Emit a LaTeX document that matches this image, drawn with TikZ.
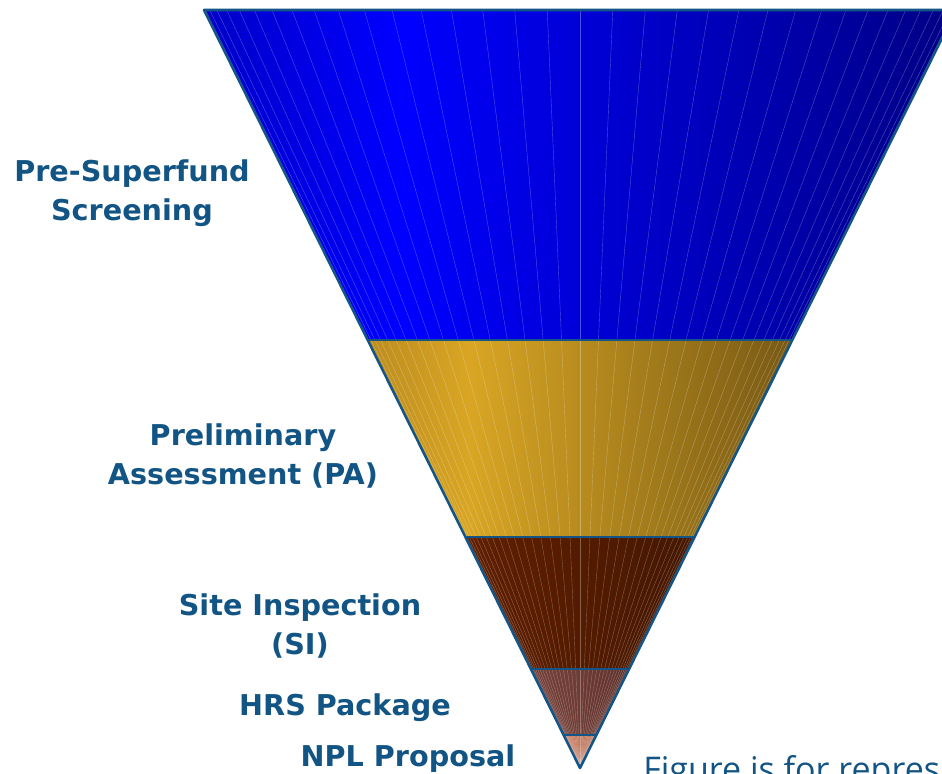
\documentclass[tikz,border=0pt]{standalone}
\usepackage{fontspec}
\setmainfont{DejaVu Sans}
\newfontfamily\notefont{Open Sans}
\usepackage{xcolor}

\definecolor{edgeblue}{RGB}{20,85,135}
\definecolor{labelblue}{RGB}{18,84,132}

\pgfdeclarehorizontalshading{blueband}{100bp}{rgb(0bp)=(0,0,0.78); rgb(25bp)=(0,0,0.78); rgb(38bp)=(0,0,1); rgb(75bp)=(0,0,0.52); rgb(100bp)=(0,0,0.52)}
\pgfdeclarehorizontalshading{goldband}{100bp}{rgb(0bp)=(0.74,0.55,0.12); rgb(25bp)=(0.74,0.55,0.12); rgb(37bp)=(0.85,0.65,0.14); rgb(75bp)=(0.47,0.35,0.08); rgb(100bp)=(0.47,0.35,0.08)}
\pgfdeclarehorizontalshading{brownband}{100bp}{rgb(0bp)=(0.38,0.12,0); rgb(25bp)=(0.38,0.12,0); rgb(45bp)=(0.34,0.11,0); rgb(75bp)=(0.27,0.09,0); rgb(100bp)=(0.27,0.09,0)}
\pgfdeclarehorizontalshading{maroonband}{100bp}{rgb(0bp)=(0.45,0.24,0.21); rgb(25bp)=(0.45,0.24,0.21); rgb(45bp)=(0.44,0.24,0.21); rgb(75bp)=(0.37,0.19,0.17); rgb(100bp)=(0.37,0.19,0.17)}
\pgfdeclarehorizontalshading{tipband}{100bp}{rgb(0bp)=(0.78,0.48,0.37); rgb(25bp)=(0.78,0.48,0.37); rgb(75bp)=(0.72,0.44,0.34); rgb(100bp)=(0.72,0.44,0.34)}

\begin{document}
\begin{tikzpicture}[x=0.75pt,y=-0.75pt,
  stage/.style={text=labelblue,font=\bfseries\fontsize{21.5}{29}\selectfont,align=center},
  rim/.style={draw=edgeblue,line width=1.9pt,line join=round},
  stripe/.style={white,opacity=0.3,line width=0.3pt}]

\useasboundingbox (0,0) rectangle (942,774);

\coordinate (apex) at (580,768);
\coordinate (tl) at (204,10);
\coordinate (tr) at (956,10);
\coordinate (l1) at (367.7,340);
\coordinate (r1) at (792.3,340);
\coordinate (l2) at (465.4,537);
\coordinate (r2) at (694.6,537);
\coordinate (l3) at (530.9,669);
\coordinate (r3) at (629.1,669);
\coordinate (l4) at (563.6,735);
\coordinate (r4) at (596.4,735);

% bands
\shade[shading=blueband] (tl) -- (tr) -- (r1) -- (l1) -- cycle;
\shade[shading=goldband] (l1) -- (r1) -- (r2) -- (l2) -- cycle;
\shade[shading=brownband] (l2) -- (r2) -- (r3) -- (l3) -- cycle;
\shade[shading=maroonband] (l3) -- (r3) -- (r4) -- (l4) -- cycle;
\shade[shading=tipband] (l4) -- (r4) -- (apex) -- cycle;

% stripes
\foreach \a in {-85,-80,...,85}
  \draw[stripe] (apex) -- ({580+376*sin(\a)},10);

% outline
\draw[rim] (tl) -- (tr) -- (apex) -- cycle;
\draw[rim] (l1) -- (r1);
\draw[rim] (l2) -- (r2);
\draw[rim] (l3) -- (r3);
\draw[rim] (l4) -- (r4);

% labels
\node(presf) at (132,193)[stage] {Pre-Superfund\\Screening};
\node(pa) at (243,456)[stage] {Preliminary\\Assessment (PA)};
\node(si) at (300,626)[stage] {Site Inspection\\(SI)};
\node(hrs) at (345,708)[stage] {HRS Package};
\node(npl) at (408,759)[stage] {NPL Proposal};
\node(note) at (643,781)[anchor=base west,inner sep=0pt,text=labelblue,font=\notefont\fontsize{25.5}{30}\selectfont] {Figure is for repres};

\end{tikzpicture}
\end{document}
